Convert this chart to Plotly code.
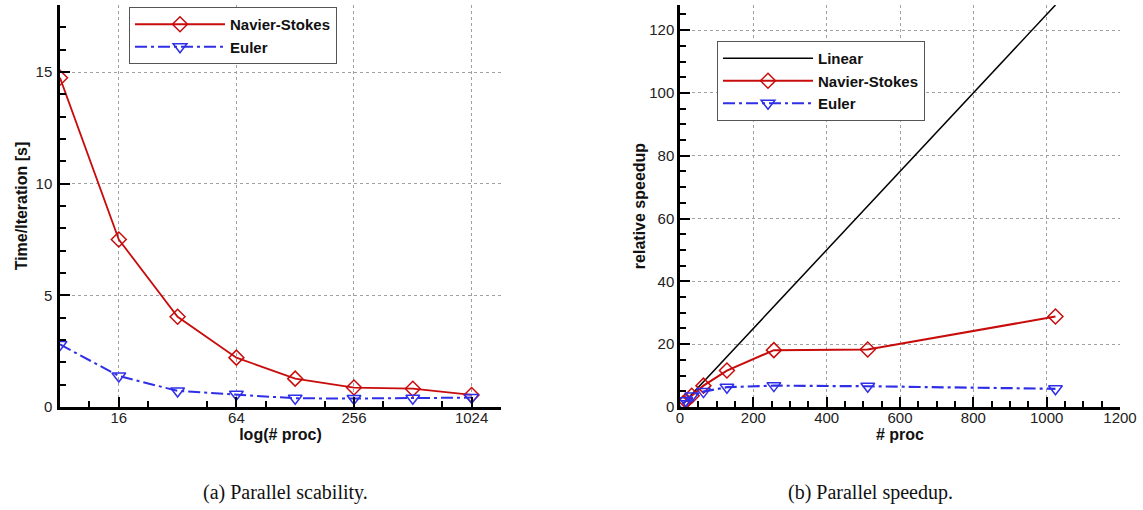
import plotly.graph_objects as go

# ---------------- data ----------------
procs = [8, 16, 32, 64, 128, 256, 512, 1024]

# (a) time per iteration [s]
time_ns = [14.74, 7.5, 4.04, 2.21, 1.27, 0.87, 0.82, 0.54]
time_euler = [2.8, 1.39, 0.72, 0.57, 0.39, 0.38, 0.39, 0.42]

# (b) relative speedup
linear_x = [8, 1024]
linear_y = [1, 128]
speed_ns = [1.0, 1.95, 3.6, 6.8, 11.6, 18.1, 18.3, 28.8]
speed_euler = [1.0, 2.0, 3.5, 4.9, 6.3, 6.8, 6.6, 5.8]

log_ticks = [16, 64, 256, 1024]
log_minor = [11.31, 22.63, 45.25, 90.51, 181.0, 362.0, 724.1]
yticks_a = [0, 5, 10, 15]
xticks_b = [0, 200, 400, 600, 800, 1000, 1200]
yticks_b = [0, 20, 40, 60, 80, 100, 120]

captions = ["(a) Parallel scability.", "(b) Parallel speedup."]

# ---------------- style ----------------
RED = "#c80c0c"
BLUE = "#2f2fe8"
W, H = 1143, 510
FONT = "Liberation Sans, Arial, sans-serif"
DASHDOT = "12px,4px,3px,4px"

fig = go.Figure()

# left panel
fig.add_trace(go.Scatter(
    x=procs, y=time_ns, name="Navier-Stokes", mode="lines+markers",
    line=dict(color=RED, width=1.8),
    marker=dict(symbol="diamond-open", size=11.5, color=RED, line=dict(width=1.5)),
    xaxis="x", yaxis="y", legend="legend"))
fig.add_trace(go.Scatter(
    x=procs, y=time_euler, name="Euler", mode="lines+markers",
    line=dict(color=BLUE, width=2, dash=DASHDOT),
    marker=dict(symbol="triangle-down-open", size=12, color=BLUE, line=dict(width=1.5)),
    xaxis="x", yaxis="y", legend="legend"))

# right panel
fig.add_trace(go.Scatter(
    x=linear_x, y=linear_y, name="Linear", mode="lines",
    line=dict(color="black", width=1.5),
    xaxis="x2", yaxis="y2", legend="legend2"))
fig.add_trace(go.Scatter(
    x=procs, y=speed_ns, name="Navier-Stokes", mode="lines+markers",
    line=dict(color=RED, width=2),
    marker=dict(symbol="diamond-open", size=11.5, color=RED, line=dict(width=1.5)),
    xaxis="x2", yaxis="y2", legend="legend2"))
fig.add_trace(go.Scatter(
    x=procs, y=speed_euler, name="Euler", mode="lines+markers",
    line=dict(color=BLUE, width=2.2, dash=DASHDOT),
    marker=dict(symbol="triangle-down-open", size=12, color=BLUE, line=dict(width=1.5)),
    xaxis="x2", yaxis="y2", legend="legend2"))

tickfont = dict(family=FONT, size=15, color="#222")
titlefont = dict(family=FONT, size=16, color="#111", weight="bold")
grid = dict(showgrid=True, gridcolor="#a0a0a0", griddash="dot", gridwidth=1)
axline = dict(showline=True, linecolor="black", linewidth=2.5, zeroline=False,
              ticks="inside", tickcolor="black", tickwidth=2, ticklen=10,
              tickfont=tickfont, automargin=False)

def px_x(a, b):
    return [a / W, b / W]

def px_y(top, bottom):
    return [(H - bottom) / H, (H - top) / H]

legfont = dict(family=FONT, size=15, color="#111", weight="bold")

fig.update_layout(
    width=W, height=H,
    margin=dict(l=0, r=0, t=0, b=0),
    paper_bgcolor="white", plot_bgcolor="white",
    showlegend=True,
    xaxis=dict(domain=px_x(60, 501), type="log", range=[0.90309, 3.1609],
               tickmode="array", tickvals=log_ticks, ticktext=[str(v) for v in log_ticks],
               minor=dict(tickmode="array", tickvals=log_minor, ticks="inside",
                          ticklen=6, tickwidth=1.5, tickcolor="black", showgrid=False),
               title=dict(text="log(# proc)", font=titlefont, standoff=2),
               ticklabelstandoff=-5,
               anchor="y", **grid, **axline),
    yaxis=dict(domain=px_y(5, 407), range=[0, 18.0],
               tickmode="array", tickvals=yticks_a,
               minor=dict(dtick=1, ticks="inside", ticklen=6, tickwidth=1.5,
                          tickcolor="black", showgrid=False),
               title=dict(text="Time/Iteration [s]", font=titlefont, standoff=4),
               ticklabelstandoff=2,
               anchor="x", **grid, **axline),
    xaxis2=dict(domain=px_x(680, 1120), range=[0, 1200],
                tickmode="array", tickvals=xticks_b,
                minor=dict(dtick=50, ticks="inside", ticklen=6, tickwidth=1.5,
                           tickcolor="black", showgrid=False),
                title=dict(text="# proc", font=titlefont, standoff=2),
                ticklabelstandoff=-5,
                anchor="y2", **grid, **axline),
    yaxis2=dict(domain=px_y(5, 407), range=[0, 128],
                tickmode="array", tickvals=yticks_b,
                minor=dict(dtick=5, ticks="inside", ticklen=6, tickwidth=1.5,
                           tickcolor="black", showgrid=False),
                title=dict(text="relative speedup", font=titlefont, standoff=0),
                anchor="x2", **grid, **axline),
    legend=dict(x=129 / W, y=1 - 7 / H, xanchor="left", yanchor="top",
                bgcolor="white", bordercolor="#555", borderwidth=1,
                font=legfont, itemwidth=90, tracegroupgap=0),
    legend2=dict(x=717 / W, y=1 - 41 / H, xanchor="left", yanchor="top",
                 bgcolor="white", bordercolor="#555", borderwidth=1,
                 font=legfont, itemwidth=90, tracegroupgap=0),
)

capfont = dict(family="Liberation Serif, serif", size=20, color="#111")
fig.add_annotation(text=captions[0], x=285 / W, y=(H - 492) / H, xref="paper", yref="paper",
                   xanchor="center", yanchor="middle", showarrow=False, font=capfont)
fig.add_annotation(text=captions[1], x=870 / W, y=(H - 492) / H, xref="paper", yref="paper",
                   xanchor="center", yanchor="middle", showarrow=False, font=capfont)

fig.write_html("out.html", config={"displayModeBar": False},
               post_script="document.body.style.margin='0';document.body.style.overflow='hidden';")
